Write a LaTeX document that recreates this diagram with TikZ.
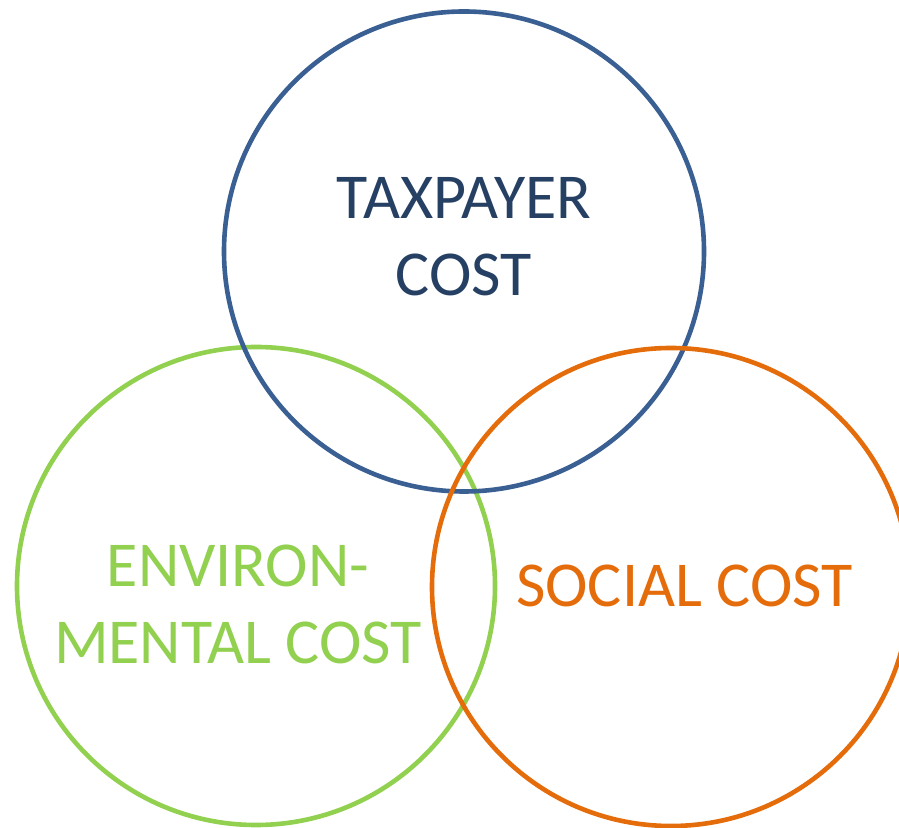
\documentclass[tikz,border=0pt]{standalone}
\usepackage{fontspec}
\setmainfont{Carlito}
\definecolor{blueline}{HTML}{3A5F92}
\definecolor{bluetext}{HTML}{264064}
\definecolor{greenc}{HTML}{92D050}
\definecolor{orangec}{HTML}{E46C0A}
\tikzset{
  ring/.style={draw=#1, line width=4.6pt, fill=none},
  lbl/.style={text=#1, align=center, inner sep=0pt, font=\fontsize{64}{77}\selectfont}
}
\begin{document}
\begin{tikzpicture}[x=1pt,y=1pt]
\useasboundingbox (0,0) rectangle (899,827);
\fill[white] (0,0) rectangle (899,827);
\node[circle, ring=greenc, minimum size=478pt, inner sep=0pt] (env) at (256,241) {};
\node[circle, ring=blueline, minimum size=480pt, inner sep=0pt] (tax) at (464,575.5) {};
\node[circle, ring=orangec, minimum size=478pt, inner sep=0pt] (soc) at (671,240) {};
\node[lbl=bluetext] (taxt) at (464,590) {TAXPAYER\\COST};
\node[lbl=greenc] (envt) at (238,223) {ENVIRON-\\MENTAL COST};
\node[lbl=orangec, anchor=base] (soct) at (684.5,220) {SOCIAL COST};
\end{tikzpicture}
\end{document}
